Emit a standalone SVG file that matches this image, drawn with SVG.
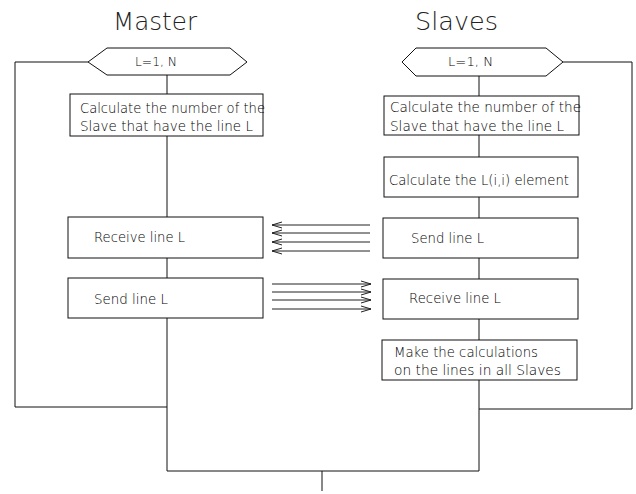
<svg xmlns="http://www.w3.org/2000/svg" width="636" height="494" viewBox="0 0 636 494">
  <style>
    .box { fill: #fff; stroke: #111; stroke-width: 1; }
    .ln { fill: none; stroke: #111; stroke-width: 1; }
    .msg { fill: none; stroke: #222; stroke-width: 1; }
    .t { font-family: "DejaVu Sans", "Liberation Sans", sans-serif; font-weight: 200; font-size: 13.5px; fill: #000; }
    .h { font-family: "DejaVu Sans", "Liberation Sans", sans-serif; font-weight: 200; font-size: 12px; fill: #000; }
    .title { font-family: "DejaVu Sans", "Liberation Sans", sans-serif; font-weight: 200; font-size: 24px; fill: #222; }
  </style>
  <defs>
    <marker id="open" viewBox="0 0 10 8" refX="10" refY="4" markerWidth="10" markerHeight="8" markerUnits="userSpaceOnUse" orient="auto">
      <path d="M0,1 L10,4 L0,7" fill="none" stroke="#222" stroke-width="1"/>
    </marker>
  </defs>
  <rect width="636" height="494" fill="#fff"/>

  <!-- column titles -->
  <text class="title" x="113" y="30" textLength="84" lengthAdjust="spacingAndGlyphs">Master</text>
  <text class="title" x="415" y="30" textLength="83" lengthAdjust="spacingAndGlyphs">Slaves</text>

  <!-- connectors -->
  <g id="connectors">
    <!-- master flow -->
    <path class="ln" d="M167,75 V94 M167,136 V217 M167,258 V278 M167,318 V471"/>
    <path class="ln" d="M88,62 H15 V407 H167"/>
    <!-- slave flow -->
    <path class="ln" d="M479,76 V96 M479,135 V157 M479,197 V218 M479,258 V279 M479,319 V340 M479,380 V471"/>
    <path class="ln" d="M563,62 H632 V409 H479"/>
    <!-- join -->
    <path class="ln" d="M167,471 H479 M322,471 V491"/>
    <!-- slaves to master -->
    <line class="msg" x1="370" y1="225" x2="272" y2="225" marker-end="url(#open)"/>
    <line class="msg" x1="370" y1="233" x2="272" y2="233" marker-end="url(#open)"/>
    <line class="msg" x1="370" y1="242" x2="272" y2="242" marker-end="url(#open)"/>
    <line class="msg" x1="370" y1="251" x2="272" y2="251" marker-end="url(#open)"/>
    <!-- master to slaves -->
    <line class="msg" x1="272" y1="284" x2="371" y2="284" marker-end="url(#open)"/>
    <line class="msg" x1="272" y1="292" x2="371" y2="292" marker-end="url(#open)"/>
    <line class="msg" x1="272" y1="300" x2="371" y2="300" marker-end="url(#open)"/>
    <line class="msg" x1="272" y1="309" x2="371" y2="309" marker-end="url(#open)"/>
  </g>

  <!-- master column -->
  <g id="m-loop">
    <polygon class="box" points="88,62 107,48 230,48 247,62 230,75 107,75"/>
    <text class="h" x="135" y="66" textLength="42" lengthAdjust="spacingAndGlyphs">L=1, N</text>
  </g>
  <g id="m-calc">
    <rect class="box" x="70" y="94" width="193" height="42"/>
    <text class="t" x="80" y="113" textLength="185" lengthAdjust="spacingAndGlyphs">Calculate the number of the</text>
    <text class="t" x="80" y="131" textLength="173" lengthAdjust="spacingAndGlyphs">Slave that have the line L</text>
  </g>
  <g id="m-receive">
    <rect class="box" x="68" y="217" width="195" height="41"/>
    <text class="t" x="94" y="242" textLength="91" lengthAdjust="spacingAndGlyphs">Receive line L</text>
  </g>
  <g id="m-send">
    <rect class="box" x="68" y="278" width="195" height="40"/>
    <text class="t" x="94" y="304" textLength="74" lengthAdjust="spacingAndGlyphs">Send line L</text>
  </g>

  <!-- slave column -->
  <g id="s-loop">
    <polygon class="box" points="402,62 416,48 546,48 563,62 546,76 416,76"/>
    <text class="h" x="448" y="66" textLength="45" lengthAdjust="spacingAndGlyphs">L=1, N</text>
  </g>
  <g id="s-calc">
    <rect class="box" x="384" y="96" width="195" height="39"/>
    <text class="t" x="390" y="112" textLength="191" lengthAdjust="spacingAndGlyphs">Calculate the number of the</text>
    <text class="t" x="390" y="131" textLength="174" lengthAdjust="spacingAndGlyphs">Slave that have the line L</text>
  </g>
  <g id="s-element">
    <rect class="box" x="384" y="157" width="194" height="40"/>
    <text class="t" x="389" y="185" textLength="180" lengthAdjust="spacingAndGlyphs">Calculate the L(i,i) element</text>
  </g>
  <g id="s-send">
    <rect class="box" x="383" y="218" width="195" height="40"/>
    <text class="t" x="411" y="243" textLength="73" lengthAdjust="spacingAndGlyphs">Send line L</text>
  </g>
  <g id="s-receive">
    <rect class="box" x="383" y="279" width="195" height="40"/>
    <text class="t" x="409" y="303" textLength="92" lengthAdjust="spacingAndGlyphs">Receive line L</text>
  </g>
  <g id="s-update">
    <rect class="box" x="382" y="340" width="195" height="40"/>
    <text class="t" x="394" y="357" textLength="144" lengthAdjust="spacingAndGlyphs">Make the calculations</text>
    <text class="t" x="394" y="375" textLength="167" lengthAdjust="spacingAndGlyphs">on the lines in all Slaves</text>
  </g>
</svg>
